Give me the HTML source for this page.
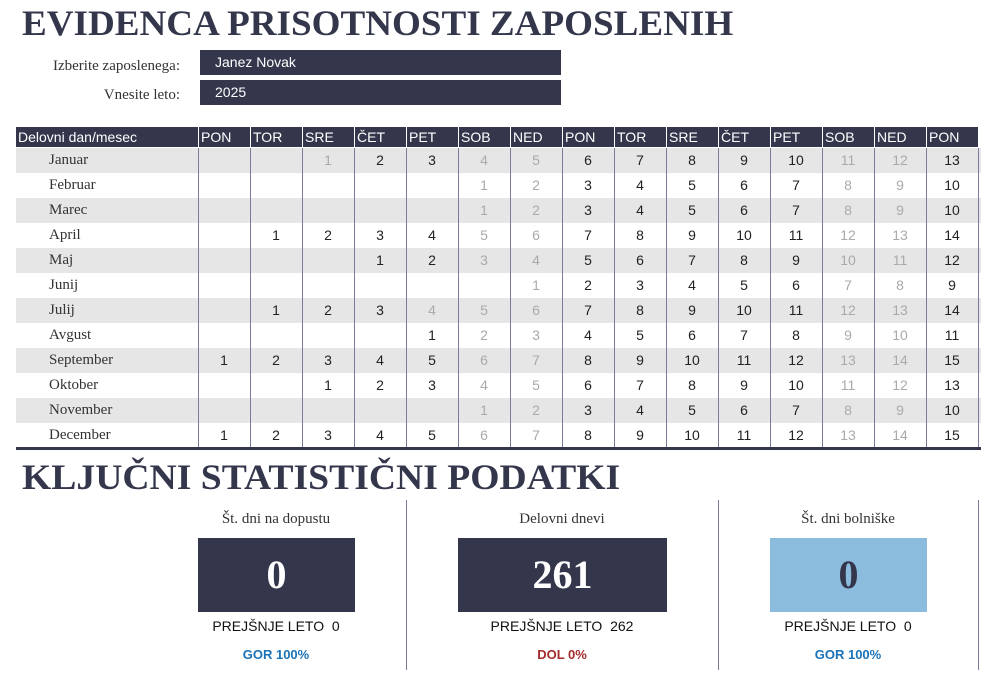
<!DOCTYPE html>
<html><head><meta charset="utf-8">
<style>
body{margin:0;width:981px;height:689px;background:#fff;position:relative;overflow:hidden;font-family:"Liberation Sans","DejaVu Sans",sans-serif;}
.abs{position:absolute;}
.title{font-family:"Liberation Serif",serif;font-weight:bold;color:#34374c;white-space:nowrap;transform-origin:0 0;}
.lbl{font-family:"Liberation Serif",serif;font-size:15px;color:#333;text-align:right;width:170px;left:10px;}
.inp{background:#34374c;color:#fff;font-size:14px;left:200px;width:346px;padding-left:15px;height:25px;line-height:25px;}
.cell{position:absolute;height:25px;line-height:25px;font-size:14px;text-align:center;color:#222;box-sizing:border-box;}
.hd{position:absolute;top:127px;height:20px;line-height:20px;font-size:14px;color:#fff;background:#34374c;padding-left:2px;box-sizing:border-box;}
.vline{position:absolute;width:1px;background:#7a7a99;}
.stl{font-family:"Liberation Serif",serif;font-size:15px;color:#333;text-align:center;}
.box{font-family:"Liberation Serif",serif;font-weight:bold;font-size:40px;color:#fff;text-align:center;line-height:74px;height:74px;}
.prev{font-size:14px;color:#111;text-align:center;}
.chg{font-size:13px;font-weight:bold;text-align:center;}
</style></head>
<body>
<div class="abs title" id="t1" style="left:22px;top:2px;font-size:36px;">EVIDENCA PRISOTNOSTI ZAPOSLENIH</div>
<div class="abs lbl" style="top:58px;">Izberite zaposlenega:</div>
<div class="abs inp" style="top:50px;">Janez Novak</div>
<div class="abs lbl" style="top:87px;">Vnesite leto:</div>
<div class="abs inp" style="top:80px;">2025</div>

<div id="tbl"></div>
<div class="abs" style="left:16px;top:447px;width:965px;height:3px;background:#34374c;"></div>

<div class="abs title" id="t2" style="left:22px;top:456px;font-size:36px;">KLJUČNI STATISTIČNI PODATKI</div>

<div class="abs vline" style="left:406px;top:500px;height:170px;"></div>
<div class="abs vline" style="left:718px;top:500px;height:170px;"></div>
<div class="abs vline" style="left:978px;top:500px;height:170px;"></div>

<div class="abs stl" style="left:176px;width:200px;top:511px;">Št. dni na dopustu</div>
<div class="abs box" style="left:198px;width:157px;top:538px;background:#34374c;">0</div>
<div class="abs prev" style="left:176px;width:200px;top:618px;">PREJŠNJE LETO &nbsp;0</div>
<div class="abs chg" style="left:176px;width:200px;top:647px;color:#1a72b8;">GOR 100%</div>

<div class="abs stl" style="left:462px;width:200px;top:511px;">Delovni dnevi</div>
<div class="abs box" style="left:458px;width:209px;top:538px;background:#34374c;">261</div>
<div class="abs prev" style="left:462px;width:200px;top:618px;">PREJŠNJE LETO &nbsp;262</div>
<div class="abs chg" style="left:462px;width:200px;top:647px;color:#a52a2a;">DOL 0%</div>

<div class="abs stl" style="left:748px;width:200px;top:511px;">Št. dni bolniške</div>
<div class="abs box" style="left:770px;width:157px;top:538px;background:#8bbcdd;color:#34374c;">0</div>
<div class="abs prev" style="left:748px;width:200px;top:618px;">PREJŠNJE LETO &nbsp;0</div>
<div class="abs chg" style="left:748px;width:200px;top:647px;color:#1a72b8;">GOR 100%</div>

<script>
const months = ["Januar","Februar","Marec","April","Maj","Junij","Julij","Avgust","September","Oktober","November","December"];
const dayHeaders = ["PON","TOR","SRE","ČET","PET","SOB","NED","PON","TOR","SRE","ČET","PET","SOB","NED","PON"];
const startCol = [2,5,5,1,3,6,1,4,0,2,5,0];
const greyDays = [[1],[],[],[],[],[],[4],[],[],[],[],[]];

function fit(id,w){const e=document.getElementById(id);e.style.transform='scaleX('+(w/e.offsetWidth)+')';}
fit('t1',711);fit('t2',598);

const tbl=document.getElementById('tbl');
const X0=198,CW=52,Y0=148,RH=25;
let h=document.createElement('div');h.className='hd';h.style.left='16px';h.style.width=(X0-16)+'px';h.textContent='Delovni dan/mesec';


tbl.appendChild(h);
dayHeaders.forEach((d,i)=>{const c=document.createElement('div');c.className='hd';c.style.left=(X0+i*CW+1)+'px';c.style.width=(CW-1)+'px';c.textContent=d;


tbl.appendChild(c);});
months.forEach((m,r)=>{
  const y=Y0+r*RH;
  const bg=document.createElement('div');bg.className='cell';bg.style.left='16px';bg.style.top=y+'px';bg.style.width='965px';bg.style.background=(r%2==0)?'#e6e6e6':'#fff';
  
  
  tbl.appendChild(bg);
  const l=document.createElement('div');l.className='cell';l.style.left='49px';l.style.top=y+'px';l.style.textAlign='left';l.style.fontFamily='"Liberation Serif",serif';l.style.fontSize='15px';l.style.color='#333';l.textContent=m;
  
  
  tbl.appendChild(l);
  for(let c=startCol[r];c<15;c++){
    const day=c-startCol[r]+1;
    const e=document.createElement('div');e.className='cell';e.style.left=(X0+c*CW)+'px';e.style.top=y+'px';e.style.width=CW+'px';e.textContent=day;
    const wk=c%7;
    if(wk>=5||greyDays[r].includes(day))e.style.color='#aaa';
    
    
    tbl.appendChild(e);
  }
});
for(let i=0;i<=15;i++){
  const v=document.createElement('div');v.className='vline';v.style.left=(X0+i*CW)+'px';v.style.top='148px';v.style.height='300px';
  
  
  tbl.appendChild(v);
  const w=document.createElement('div');w.className='vline';w.style.background='#fff';w.style.left=(X0+i*CW)+'px';w.style.top='127px';w.style.height='21px';
  
  
  tbl.appendChild(w);
}
</script>
</body></html>
